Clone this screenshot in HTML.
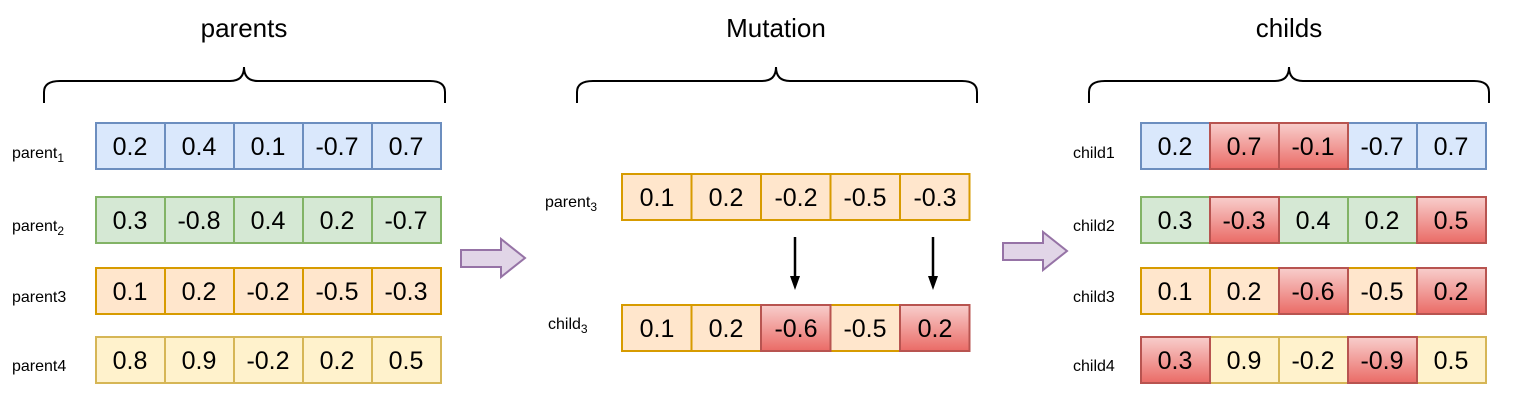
<!DOCTYPE html>
<html><head><meta charset="utf-8"><style>
html,body{margin:0;padding:0;background:#fff;}
svg{display:block;font-family:"Liberation Sans",Arial,sans-serif;}
</style></head><body>
<svg width="1524" height="418" viewBox="0 0 1524 418" xmlns="http://www.w3.org/2000/svg">
<defs>
<linearGradient id="rg" x1="0" y1="0" x2="0" y2="1"><stop offset="0" stop-color="#f8cecc"/><stop offset="1" stop-color="#ea6b66"/></linearGradient>
</defs>
<g font-size="26" text-anchor="middle" fill="#000">
<text x="244" y="37">parents</text>
<text x="776" y="37">Mutation</text>
<text x="1289" y="37">childs</text>
</g>
<g fill="none" stroke="#000" stroke-width="2">
<path d="M44,103 V92 Q44,81 60,81 H230 Q244,81 244,67 Q244,81 258,81 H430 Q445,81 445,92 V103"/>
<path d="M577,103 V92 Q577,81 593,81 H762 Q776,81 776,67 Q776,81 790,81 H962 Q977,81 977,92 V103"/>
<path d="M1089,103 V92 Q1089,81 1105,81 H1275 Q1289,81 1289,67 Q1289,81 1303,81 H1474 Q1489,81 1489,92 V103"/>
</g>
<g id="cells" stroke-width="2" font-size="25" text-anchor="middle">
<g stroke="#6c8ebf" fill="#dae8fc">
<rect x="96" y="123" width="69" height="46"/><rect x="165" y="123" width="69" height="46"/><rect x="234" y="123" width="69" height="46"/><rect x="303" y="123" width="69" height="46"/><rect x="372" y="123" width="69" height="46"/>
</g>
<g stroke="#82b366" fill="#d5e8d4">
<rect x="96" y="197" width="69" height="46"/><rect x="165" y="197" width="69" height="46"/><rect x="234" y="197" width="69" height="46"/><rect x="303" y="197" width="69" height="46"/><rect x="372" y="197" width="69" height="46"/>
</g>
<g stroke="#d79b00" fill="#ffe6cc">
<rect x="96" y="268" width="69" height="46"/><rect x="165" y="268" width="69" height="46"/><rect x="234" y="268" width="69" height="46"/><rect x="303" y="268" width="69" height="46"/><rect x="372" y="268" width="69" height="46"/>
<rect x="622" y="174" width="69.5" height="46"/><rect x="691.5" y="174" width="69.5" height="46"/><rect x="761" y="174" width="69.5" height="46"/><rect x="830.5" y="174" width="69.5" height="46"/><rect x="900" y="174" width="69.5" height="46"/>
<rect x="622" y="305" width="69.5" height="46"/><rect x="691.5" y="305" width="69.5" height="46"/><rect x="830.5" y="305" width="69.5" height="46"/>
<rect x="1141" y="268" width="69" height="46"/><rect x="1210" y="268" width="69" height="46"/><rect x="1348" y="268" width="69" height="46"/>
</g>
<g stroke="#d6b656" fill="#fff2cc">
<rect x="96" y="337" width="69" height="46"/><rect x="165" y="337" width="69" height="46"/><rect x="234" y="337" width="69" height="46"/><rect x="303" y="337" width="69" height="46"/><rect x="372" y="337" width="69" height="46"/>
<rect x="1210" y="337" width="69" height="46"/><rect x="1279" y="337" width="69" height="46"/><rect x="1417" y="337" width="69" height="46"/>
</g>
<g stroke="#6c8ebf" fill="#dae8fc">
<rect x="1141" y="123" width="69" height="46"/><rect x="1348" y="123" width="69" height="46"/><rect x="1417" y="123" width="69" height="46"/>
</g>
<g stroke="#82b366" fill="#d5e8d4">
<rect x="1141" y="197" width="69" height="46"/><rect x="1279" y="197" width="69" height="46"/><rect x="1348" y="197" width="69" height="46"/>
</g>
<g stroke="#b85450" fill="url(#rg)">
<rect x="761" y="305" width="69.5" height="46"/><rect x="900" y="305" width="69.5" height="46"/>
<rect x="1210" y="123" width="69" height="46"/><rect x="1279" y="123" width="69" height="46"/>
<rect x="1210" y="197" width="69" height="46"/><rect x="1417" y="197" width="69" height="46"/>
<rect x="1279" y="268" width="69" height="46"/><rect x="1417" y="268" width="69" height="46"/>
<rect x="1141" y="337" width="69" height="46"/><rect x="1348" y="337" width="69" height="46"/>
</g>
<g fill="#000" stroke="none">
<text x="130" y="155">0.2</text><text x="199" y="155">0.4</text><text x="268" y="155">0.1</text><text x="337" y="155">-0.7</text><text x="406" y="155">0.7</text>
<text x="130" y="229">0.3</text><text x="199" y="229">-0.8</text><text x="268" y="229">0.4</text><text x="337" y="229">0.2</text><text x="406" y="229">-0.7</text>
<text x="130" y="300">0.1</text><text x="199" y="300">0.2</text><text x="268" y="300">-0.2</text><text x="337" y="300">-0.5</text><text x="406" y="300">-0.3</text>
<text x="130" y="369">0.8</text><text x="199" y="369">0.9</text><text x="268" y="369">-0.2</text><text x="337" y="369">0.2</text><text x="406" y="369">0.5</text>
<text x="657" y="206">0.1</text><text x="726" y="206">0.2</text><text x="796" y="206">-0.2</text><text x="865" y="206">-0.5</text><text x="935" y="206">-0.3</text>
<text x="657" y="337">0.1</text><text x="726" y="337">0.2</text><text x="796" y="337">-0.6</text><text x="865" y="337">-0.5</text><text x="935" y="337">0.2</text>
<text x="1175" y="155">0.2</text><text x="1244" y="155">0.7</text><text x="1313" y="155">-0.1</text><text x="1382" y="155">-0.7</text><text x="1451" y="155">0.7</text>
<text x="1175" y="229">0.3</text><text x="1244" y="229">-0.3</text><text x="1313" y="229">0.4</text><text x="1382" y="229">0.2</text><text x="1451" y="229">0.5</text>
<text x="1175" y="300">0.1</text><text x="1244" y="300">0.2</text><text x="1313" y="300">-0.6</text><text x="1382" y="300">-0.5</text><text x="1451" y="300">0.2</text>
<text x="1175" y="369">0.3</text><text x="1244" y="369">0.9</text><text x="1313" y="369">-0.2</text><text x="1382" y="369">-0.9</text><text x="1451" y="369">0.5</text>
</g>
</g>
<g font-size="16" fill="#000">
<text x="12" y="158">parent<tspan font-size="12" dy="4">1</tspan></text>
<text x="12" y="231">parent<tspan font-size="12" dy="4">2</tspan></text>
<text x="12" y="302">parent3</text>
<text x="12" y="371">parent4</text>
<text x="545" y="207">parent<tspan font-size="12" dy="4">3</tspan></text>
<text x="548" y="329">child<tspan font-size="12" dy="4">3</tspan></text>
<text x="1073" y="158">child1</text>
<text x="1073" y="231">child2</text>
<text x="1073" y="302">child3</text>
<text x="1073" y="371">child4</text>
</g>
<g fill="#e1d5e7" stroke="#9673a6" stroke-width="2">
<path d="M461,250 H501 V239 L525,258 L501,277 V267 H461 Z"/>
<path d="M1003,243 H1043 V232 L1067,251 L1043,270 V260 H1003 Z"/>
</g>
<g stroke="#000" stroke-width="2.5">
<line x1="795" y1="237" x2="795" y2="278"/>
<line x1="933" y1="237" x2="933" y2="278"/>
</g>
<g fill="#000">
<path d="M790,276 L800,276 L795,290 Z"/>
<path d="M928,276 L938,276 L933,290 Z"/>
</g>
</svg>
</body></html>
